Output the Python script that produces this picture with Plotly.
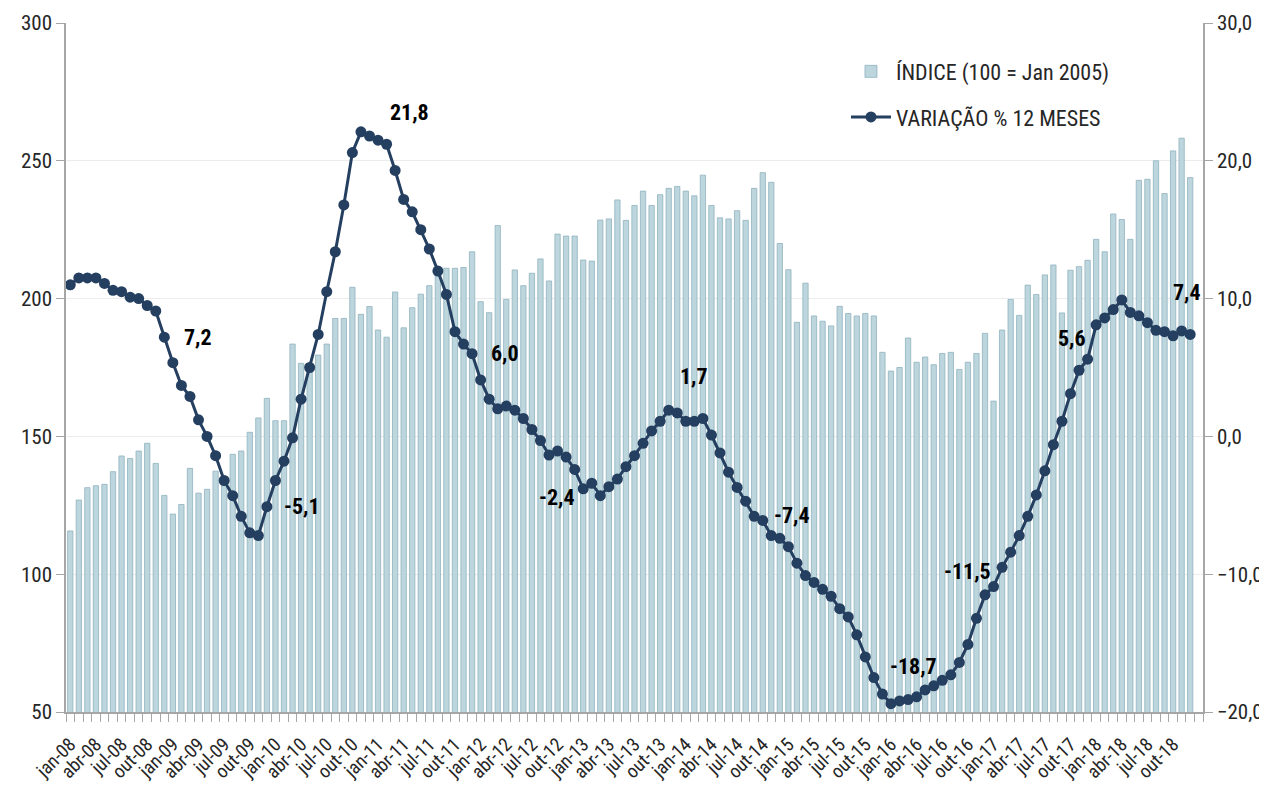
import plotly.graph_objects as go

# ---- data ----
month_names = ["jan", "fev", "mar", "abr", "mai", "jun", "jul", "ago", "set", "out", "nov", "dez"]
years = ["08", "09", "10", "11", "12", "13", "14", "15", "16", "17", "18"]
months = [f"{m}-{y}" for y in years for m in month_names]

indice = [
    115.7, 126.9, 131.4, 132.1, 132.6, 137.2, 142.9, 142.0, 144.7, 147.5, 140.2, 128.6,
    121.8, 125.3, 138.4, 129.4, 130.8, 137.4, 134.0, 143.5, 144.7, 151.5, 156.7, 163.8,
    155.7, 155.7, 183.5, 176.5, 176.0, 179.5, 183.5, 192.8, 192.8, 204.1, 194.3, 197.1,
    188.6, 186.0, 202.4, 189.4, 196.7, 201.6, 204.7, 211.6, 211.0, 211.0, 211.3, 217.0,
    198.9, 194.9, 226.5, 199.7, 210.4, 204.7, 209.2, 214.4, 206.4, 223.4, 222.7, 222.7,
    214.0, 213.6, 228.5, 228.9, 235.8, 228.4, 233.8, 239.0, 233.8, 237.7, 240.0, 240.7,
    239.0, 237.3, 244.8, 233.8, 229.3, 228.9, 231.9, 228.4, 240.0, 245.7, 242.2, 220.0,
    210.5, 191.4, 205.6, 193.7, 191.8, 190.1, 197.2, 194.6, 193.7, 194.6, 193.7, 180.5,
    173.7, 175.0, 185.7, 176.9, 178.8, 176.0, 180.1, 180.5, 174.3, 176.9, 180.1, 187.4,
    162.8, 188.6, 199.7, 193.9, 204.9, 201.5, 208.6, 212.2, 194.8, 210.3, 211.6, 213.9,
    221.5, 217.0, 230.7, 228.7, 221.5, 242.9, 243.3, 250.0, 238.1, 253.6, 258.2, 243.9,
]

variacao = [
    11.0, 11.5, 11.5, 11.5, 11.1, 10.6, 10.5, 10.1, 10.0, 9.5, 9.1, 7.2,
    5.35, 3.7, 2.9, 1.2, 0.0, -1.4, -3.2, -4.3, -5.8, -7.0, -7.2, -5.1,
    -3.2, -1.8, -0.1, 2.7, 5.0, 7.4, 10.5, 13.4, 16.8, 20.6, 22.1, 21.8,
    21.5, 21.2, 19.3, 17.2, 16.3, 15.0, 13.6, 12.0, 10.3, 7.6, 6.7, 6.0,
    4.1, 2.7, 2.0, 2.2, 1.9, 1.3, 0.5, -0.3, -1.35, -1.06, -1.5, -2.4,
    -3.8, -3.4, -4.3, -3.65, -3.1, -2.2, -1.4, -0.5, 0.4, 1.1, 1.9, 1.7,
    1.1, 1.1, 1.3, 0.1, -1.2, -2.6, -3.7, -4.7, -5.8, -6.1, -7.2, -7.4,
    -8.0, -9.2, -10.1, -10.6, -11.1, -11.6, -12.5, -13.1, -14.4, -16.0, -17.5, -18.7,
    -19.4, -19.2, -19.1, -18.9, -18.4, -18.1, -17.7, -17.3, -16.4, -15.1, -13.2, -11.5,
    -10.9, -9.5, -8.4, -7.2, -5.8, -4.25, -2.5, -0.6, 1.1, 3.1, 4.8, 5.6,
    8.1, 8.6, 9.2, 9.9, 9.0, 8.75, 8.25, 7.7, 7.6, 7.3, 7.65, 7.4,
]

# annual (December) labels and their offsets (px)
label_months = ["dez-08", "dez-09", "dez-10", "dez-11", "dez-12", "dez-13",
                "dez-14", "dez-15", "dez-16", "dez-17", "dez-18"]
label_shift = [(34, 0), (35, 0), (40, 24), (33, 0), (-18, -28), (17, 36),
               (12, 23), (31, 28), (-18, 23), (-16, 21), (-3, 42)]

left_ticks = [50, 100, 150, 200, 250, 300]
right_ticks = [-20, -10, 0, 10, 20, 30]

FONT = "Liberation Sans Narrow, Roboto Condensed, DejaVu Sans Condensed, Roboto, sans-serif"
AXIS_GRAY = "#a6a6a6"
TEXT = "#262626"

xpos = list(range(len(months)))
tick_idx = xpos[::3]
tick_txt = months[::3]

fig = go.Figure()
fig.add_trace(go.Bar(
    x=xpos, y=indice, name="ÍNDICE (100 = Jan 2005)", legendgroup="a",
    marker=dict(color="#bdd6de", line=dict(color="#8fb2be", width=0.8)),
    yaxis="y",
))
fig.add_trace(go.Scatter(
    x=xpos, y=variacao, name="VARIAÇÃO % 12 MESES", mode="lines+markers", legendgroup="b",
    line=dict(color="#243f60", width=3),
    marker=dict(color="#243f60", size=11, symbol="circle"),
    yaxis="y2",
))

annotations = []
for name, (dx, dy) in zip(label_months, label_shift):
    i = months.index(name)
    v = variacao[i]
    annotations.append(dict(
        x=xpos[i], y=v, xref="x", yref="y2",
        text=f"{v:.1f}".replace(".", ","), showarrow=False,
        xshift=dx, yshift=dy, xanchor="center", yanchor="middle",
        font=dict(family=FONT, size=22, color="#000000", weight="bold"),
    ))

fig.update_layout(
    width=1267, height=796,
    margin=dict(l=58, r=72, t=15, b=92, autoexpand=False),
    paper_bgcolor="white", plot_bgcolor="white",
    separators=",.",
    bargap=0.38,
    showlegend=True,
    legend=dict(
        x=0.686, y=0.96, xanchor="left", yanchor="top",
        bgcolor="rgba(255,255,255,0)", font=dict(family=FONT, size=22, color=TEXT),
        itemwidth=40, tracegroupgap=14,
    ),
    annotations=annotations,
    xaxis=dict(
        range=[-0.5, len(months) + 0.5], automargin=False,
        tickmode="array", tickvals=tick_idx, ticktext=tick_txt,
        tickangle=-45, ticks="", ticklen=0, ticklabelstandoff=12,
        tickfont=dict(family=FONT, size=19, color=TEXT),
        showline=True, linecolor=AXIS_GRAY, linewidth=1.5,
        showgrid=False, zeroline=False,
        minor=dict(ticks="outside", ticklen=8, tickcolor=AXIS_GRAY, tickwidth=1,
                   tick0=-0.5, dtick=1, showgrid=False),
    ),
    yaxis=dict(
        range=[left_ticks[0], left_ticks[-1]], tickmode="array", tickvals=left_ticks,
        automargin=False,
        ticks="outside", ticklen=8, tickcolor=AXIS_GRAY,
        tickfont=dict(family=FONT, size=21, color=TEXT),
        showline=True, linecolor=AXIS_GRAY, linewidth=1.5,
        showgrid=True, gridcolor="#ececec", gridwidth=1, zeroline=False,
    ),
    yaxis2=dict(
        range=[right_ticks[0], right_ticks[-1]], tickmode="array", tickvals=right_ticks,
        automargin=False,
        tickformat=".1f", overlaying="y", side="right",
        ticks="outside", ticklen=8, tickcolor=AXIS_GRAY,
        tickfont=dict(family=FONT, size=21, color=TEXT),
        showline=True, linecolor=AXIS_GRAY, linewidth=1.5,
        showgrid=False, zeroline=False,
    ),
)

fig.write_html("out.html")
